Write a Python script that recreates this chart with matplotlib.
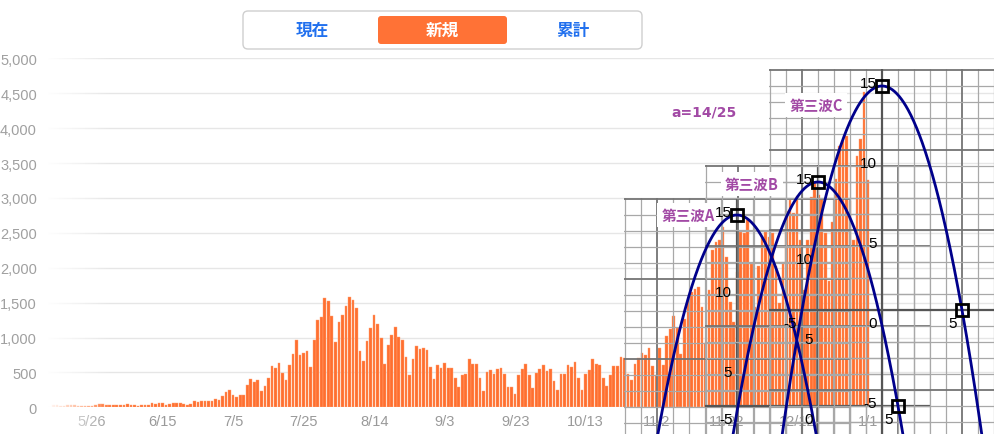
import numpy as np
import pandas as pd
import matplotlib
matplotlib.use("Agg")
import matplotlib.pyplot as plt
from matplotlib.patches import FancyBboxPatch
from matplotlib.ticker import MultipleLocator, FuncFormatter
from matplotlib.transforms import Affine2D

# daily new cases, 2020-05-15 .. 2021-01-01
start = "2020-05-15"
may = [30, 28, 15, 25, 28, 30, 32, 22, 25, 15, 20, 18, 30, 48, 52, 38, 34]
jun = [30, 38, 36, 40, 42, 30, 40, 20, 36, 38, 40, 55, 42, 62, 60,
       38, 42, 66, 60, 62, 50, 40, 45, 85, 70, 96, 86, 96, 90, 115]
jul = [110, 168, 221, 245, 182, 144, 182, 182, 326, 408, 360, 384, 230, 312, 423, 590,
       567, 629, 485, 389, 605, 768, 960, 744, 783, 807, 576, 960, 1254, 1287, 1561]
aug = [1518, 1302, 937, 1225, 1326, 1455, 1575, 1542, 1417, 807, 663, 951, 1143, 1326, 1191, 990,
       615, 889, 1037, 1153, 1009, 960, 720, 461, 687, 879, 831, 845, 816, 576, 408]
sep = [605, 567, 629, 567, 570, 423, 284, 461, 480, 687, 615, 615, 413, 240, 504,
       528, 471, 543, 567, 471, 288, 288, 192, 461, 543, 615, 461, 278, 494, 543]
oct_ = [605, 519, 543, 375, 255, 480, 480, 605, 572, 653, 413, 255, 480, 528, 687, 615,
        601, 413, 303, 461, 591, 591, 725, 701, 471, 384, 620, 711, 783, 749, 855]
nov = [591, 461, 845, 600, 1023, 1119, 1311, 1143, 759, 1263, 1527, 1647, 1696, 1719, 1431,
       927, 1681, 2248, 2368, 2392, 2584, 2152, 1503, 1215, 1935, 2512, 2500, 2680, 2060, 1430]
dec = [2030, 2430, 2510, 2440, 2500, 2030, 1500, 2070, 2810, 2970, 2780, 3030, 2400, 1680, 2390, 3020,
       3210, 3040, 2990, 2490, 1810, 2660, 3270, 3740, 3820, 3880, 2950, 2390, 3600, 3850, 4520]
jan = [3260]
cases = may + jun + jul + aug + sep + oct_ + nov + dec + jan
dates = pd.date_range(start, periods=len(cases))

tick_labels = ["5/26", "6/15", "7/5", "7/25", "8/14", "9/3", "9/23",
               "10/13", "11/2", "11/22", "12/12", "1/1"]
y_ticks = [0, 500, 1000, 1500, 2000, 2500, 3000, 3500, 4000, 4500, 5000]

tabs = ["現在", "新規", "累計"]

# parabola model drawn on the three pasted graph papers
wave_names = ["第三波A", "第三波B", "第三波C"]
peak = 14
a_coef = 14 / 25
a_label = "a=14/25"
axis_labels_y = [15, 10, 5, -5]
axis_labels_x = [-5, 5]
box_points = [[(0, 14)], [(0, 14), (5, 0)], [(0, 14), (5, 0)]]

W, H = 995, 435
UNIT = 16  # px per unit on the graph paper
panel_origin = [(737, 440), (818, 407), (882, 311)]
name_pos = [(688, 216), (752, 185), (816, 106)]

ORANGE = "#ff6f30"
PURPLE = "#a24aa5"
CJK = ["Noto Sans CJK JP", "DejaVu Sans"]


def frect(x0, y0, x1, y1):
    return [x0 / W, 1 - y1 / H, (x1 - x0) / W, (y1 - y0) / H]


fig = plt.figure(figsize=(W / 100, H / 100), dpi=100)
px = Affine2D().scale(1 / W, -1 / H).translate(0, 1) + fig.transFigure

# ---- main bar chart
ax = fig.add_axes(frect(48, 59.3, 995, 408.3), zorder=0)
x = np.arange(len(cases))
ax.bar(x, cases, width=0.76, color=ORANGE, edgecolor="#ffa477", linewidth=0.3)
ax.set_ylim(0, 5000)
ax.set_xlim(-1.52, 267.13)
ax.set_yticks(y_ticks)
ax.yaxis.set_major_formatter(FuncFormatter(lambda v, p: f"{int(v):,}"))
lbl = [f"{d.month}/{d.day}" for d in dates]
ax.set_xticks([lbl.index(t) for t in tick_labels])
ax.set_xticklabels(tick_labels)
ax.yaxis.grid(True, color="#e6e6e6", lw=1)
ax.set_axisbelow(True)
for s in ax.spines.values():
    s.set_visible(False)
ax.tick_params(axis="y", length=0, pad=8, labelsize=10.5, labelcolor="#a0a0a0")
ax.tick_params(axis="x", length=0, pad=5, labelsize=10.5, labelcolor="#9a9a9a")
for t in ax.get_xticklabels() + ax.get_yticklabels():
    t.set_fontfamily("Liberation Sans")

# left fade
fade = fig.add_axes(frect(48, 50, 112, 435), zorder=1)
grad = np.ones((1, 100, 4))
grad[0, :, 3] = np.linspace(0.97, 0, 100)
fade.imshow(grad, aspect="auto", extent=(0, 1, 0, 1))
fade.axis("off")

# ---- graph paper panels
panels = []
for i, (ox, oy) in enumerate(panel_origin):
    xl = (-7.05, 7.05)
    yl = (-(H - oy) / UNIT, 15.05)
    rect = frect(ox + xl[0] * UNIT, oy - yl[1] * UNIT, ox + xl[1] * UNIT, H)
    g = fig.add_axes(rect, zorder=2)
    g.set_xlim(xl)
    g.set_ylim(yl)
    g.set_facecolor("none")
    g.xaxis.set_minor_locator(MultipleLocator(1))
    g.yaxis.set_minor_locator(MultipleLocator(1))
    g.xaxis.set_major_locator(MultipleLocator(5))
    g.yaxis.set_major_locator(MultipleLocator(5))
    g.grid(which="minor", color="#a8a8a8", lw=0.9)
    g.grid(which="major", color="#747474", lw=1.3)
    g.axhline(0, color="#555555", lw=1.6)
    g.axvline(0, color="#555555", lw=1.6)
    g.tick_params(which="both", length=0, labelbottom=False, labelleft=False)
    for s in g.spines.values():
        s.set_visible(False)
    panels.append((rect, xl, yl))

for i, name in enumerate(wave_names):
    fig.text(name_pos[i][0], name_pos[i][1], name, transform=px, ha="center", va="center",
             fontsize=10.5, fontweight="bold", color=PURPLE, family=CJK, zorder=3,
             bbox=dict(boxstyle="square,pad=0.3", fc="white", ec="none"))
fig.text(704, 113, a_label, transform=px, ha="center", va="center", fontsize=10,
         fontweight="bold", color=PURPLE, family="DejaVu Sans", zorder=3)

xs = np.linspace(-7, 7, 400)
for i, (rect, xl, yl) in enumerate(panels):
    c = fig.add_axes(rect, zorder=4)
    c.set_xlim(xl)
    c.set_ylim(yl)
    c.axis("off")
    c.plot(xs, peak - a_coef * xs ** 2, color="#00008b", lw=2)
    for bx, by in box_points[i]:
        c.plot([bx], [by], marker="s", ms=8.5, mfc="none", mec="black", mew=2)
    kw = dict(textcoords="offset points", xytext=(-3.6, -4.3), ha="right", va="top",
              fontsize=11, family="Liberation Sans", color="black", annotation_clip=True)
    for v in axis_labels_y:
        c.annotate(str(v), (0, v), **kw)
    for u in axis_labels_x:
        c.annotate(str(u), (u, 0), **kw)
    c.annotate("0", (0, 0), **kw)

# ---- tab bar
fig.patches.append(FancyBboxPatch((243, 12), 399, 38, boxstyle="round,pad=0,rounding_size=5",
                                  fc="white", ec="#cfcfcf", lw=1, transform=px, zorder=5))
fig.patches.append(FancyBboxPatch((378, 17), 129, 28, boxstyle="round,pad=0,rounding_size=3",
                                  fc="#ff7236", ec="none", transform=px, zorder=6))
for tx, name in zip([312, 442, 573], tabs):
    fig.text(tx, 31, name, transform=px, ha="center", va="center", fontsize=12,
             fontweight="bold", family=CJK, zorder=7,
             color="white" if name == "新規" else "#2170ee")

fig.savefig("out.png", dpi=100)
